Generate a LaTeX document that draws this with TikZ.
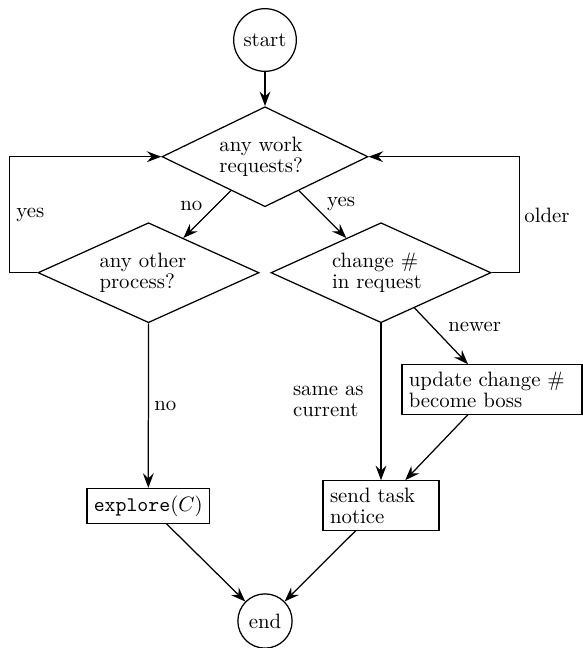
\documentclass[tikz,border=0pt]{standalone}
\usetikzlibrary{shapes.geometric,arrows.meta}
\begin{document}
\begin{tikzpicture}[x=0.4808pt,y=-0.4808pt,
  every node/.style={font=\fontsize{10}{10}\selectfont},
  flow/.style={draw,line width=0.6pt},
  term/.style={flow,circle,inner sep=3.33pt},
  decide/.style={flow,diamond,aspect=2.2,inner sep=0pt,align=left,minimum height=48.08pt},
  proc/.style={flow,rectangle,inner sep=3.33pt,align=left},
  conn/.style={line width=0.6pt,-{Stealth[length=7pt,width=5.2pt,inset=2.4pt]}},
  lbl/.style={inner sep=0pt,anchor=base west}
]
\useasboundingbox (0,0) rectangle (583,648);
\node[term] (start) at (265,40) {start};
\node[decide,minimum width=99.04pt,text width=43.8pt] (d1) at (265,156.7) {any work\\requests?};
\node[decide,minimum width=106.26pt,text width=47.1pt] (d2) at (148.5,272.7) {any other\\process?};
\node[decide,minimum width=105.8pt,text width=47.1pt] (d3) at (381,272.7) {change \#\\in request};
\node[proc,text width=80pt] (update) at (492,389.5) {update change \#\\become boss};
\node[proc,text width=49pt] (send) at (381,505.5) {send task\\notice};
\node[proc] (explore) at (148.3,505.8) {\texttt{explore}$(C)$};
\node[term] (end) at (265,621) {end};

\draw[conn] (start) -- (d1);
\draw[conn] (d1) -- (d2);
\draw[conn] (d1) -- (d3);
\draw[conn] (d2) -- (explore);
\draw[conn] (d3) -- (send);
\draw[conn] (d3) -- (update);
\draw[conn] (update) -- (send);
\draw[conn] (explore) -- (end);
\draw[conn] (send) -- (end);
\draw[conn] (d2.west) -- ++(-27.6,0) |- (d1.west);
\draw[conn] (d3.east) -- ++(28,0) |- (d1.east);

\node[lbl] (lyes) at (16,217.5) {yes};
\node[lbl] (lolder) at (524,222) {older};
\node[lbl] (lno) at (180,210.7) {no};
\node[lbl] (lyesb) at (326.7,206.5) {yes};
\node[lbl] (lnob) at (154,410.7) {no};
\node[lbl] (lnewer) at (448,331.7) {newer};
\node[lbl,align=left] (lsame) at (292.6,416.7) {same as\\current};
\end{tikzpicture}
\end{document}
